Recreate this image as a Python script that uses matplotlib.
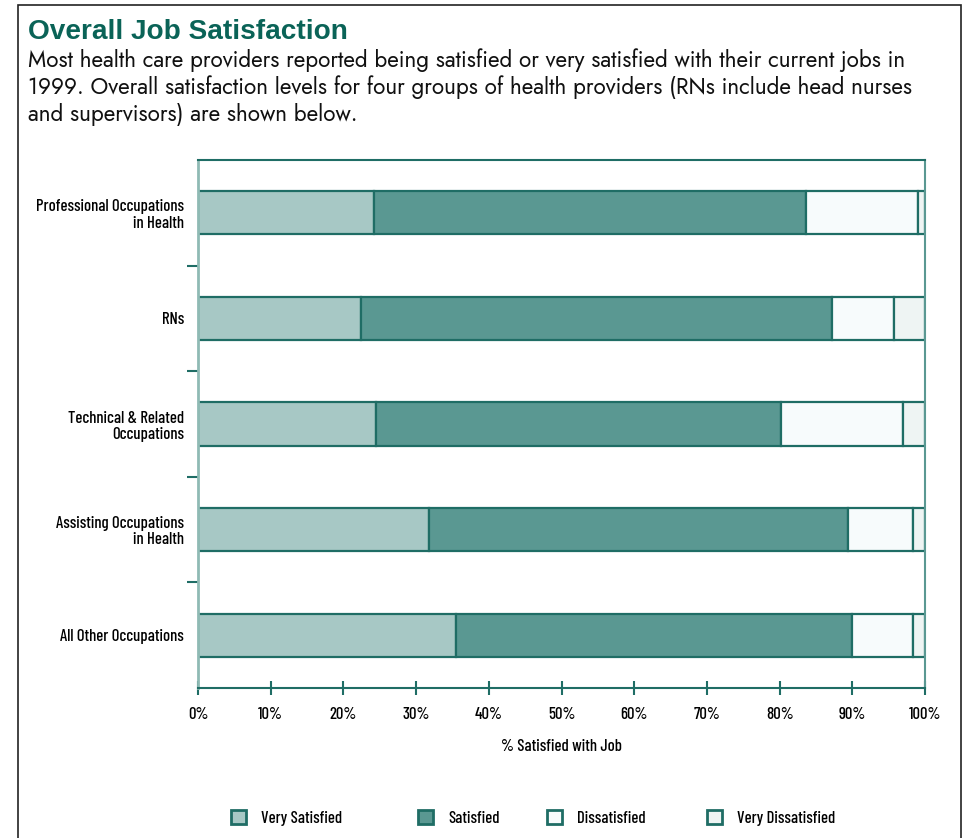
import matplotlib
matplotlib.use("Agg")
import matplotlib.pyplot as plt
from matplotlib.patches import Patch, Rectangle
import numpy as np

categories = ["Professional Occupations\nin Health", "RNs", "Technical & Related\nOccupations",
              "Assisting Occupations\nin Health", "All Other Occupations"]
series_names = ["Very Satisfied", "Satisfied", "Dissatisfied", "Very Dissatisfied"]
very_satisfied = [24.2, 22.4, 24.5, 31.8, 35.5]
satisfied = [59.5, 64.8, 55.7, 57.6, 54.4]
dissatisfied = [15.3, 8.6, 16.8, 9.0, 8.5]
very_dissatisfied = [1.0, 4.2, 3.0, 1.6, 1.6]
x_ticks = [0, 10, 20, 30, 40, 50, 60, 70, 80, 90, 100]
x_tick_labels = [f"{t}%" for t in x_ticks]

colors = ["#a7c8c5", "#5a9892", "#f7fbfc", "#eef4f3"]
edge = "#1f6d65"
narrow = ["Barlow Condensed", "DejaVu Sans"]
lab_font = {"family": narrow, "size": 12, "weight": 500}

fig = plt.figure(figsize=(9.66, 8.38), dpi=100)
W, H = 966, 838

# outer frame
fig.patches.append(Rectangle((18 / W, -0.01), (961 - 18) / W, 1.01 - 5 / H, transform=fig.transFigure,
                             fill=False, edgecolor="#222222", linewidth=1.2))

fig.text(28 / W, 1 - 32 / H, "Overall Job Satisfaction", fontsize=20.2, fontweight="bold",
         color="#0a6357", family=["Liberation Sans", "DejaVu Sans"], va="center", ha="left")
sub = ("Most health care providers reported being satisfied or very satisfied with their current jobs in\n"
       "1999. Overall satisfaction levels for four groups of health providers (RNs include head nurses\n"
       "and supervisors) are shown below.")
fig.text(28 / W, 1 - 48 / H, sub, fontsize=16.2, color="#111111", family=["Jost", "DejaVu Sans"],
         va="top", ha="left", linespacing=1.2)

ax = fig.add_axes([198 / W, 1 - 688 / H, (925 - 198) / W, (688 - 160) / H])
y = np.arange(len(categories))
series = [very_satisfied, satisfied, dissatisfied, very_dissatisfied]
left = np.zeros(len(categories))
for vals, c in zip(series, colors):
    ax.barh(y, vals, left=left, height=0.41, color=c, edgecolor=edge, linewidth=1.6)
    left += np.array(vals)

ax.set_xlim(0, 100)
ax.set_ylim(len(categories) - 0.5, -0.5)
ax.set_yticks(y)
ax.set_yticklabels(categories, fontdict=lab_font, linespacing=1.1)
ax.tick_params(axis="y", length=0, pad=10)
ax.set_yticks(np.arange(0.5, len(categories) - 1, 1), minor=True)
ax.tick_params(axis="y", which="minor", length=8, width=1.5, color="#1f6d65", direction="out")
ax.set_xticks(x_ticks)
ax.set_xticklabels(x_tick_labels, fontdict=lab_font)
ax.tick_params(axis="x", direction="inout", length=10, width=1.5, color=edge, pad=9)
ax.set_xlabel("% Satisfied with Job", fontdict=lab_font, labelpad=12)
for s in ["top", "bottom", "right"]:
    ax.spines[s].set_color(edge)
    ax.spines[s].set_linewidth(1.5)
ax.spines["left"].set_color("#8fbab4")
ax.spines["left"].set_linewidth(2)
ax.spines["right"].set_color("#5a9892")

legend_x = [231, 418, 547, 707]
for name, c, lx in zip(series_names, colors, legend_x):
    fig.legend(handles=[Patch(facecolor=c, edgecolor=edge, linewidth=2)], labels=[name],
               loc="center left", bbox_to_anchor=(lx / W, 1 - 818 / H), frameon=False,
               prop={"family": narrow, "size": 12, "weight": 500}, handlelength=0.9, handleheight=0.9,
               handletextpad=0.9, borderpad=0, borderaxespad=0)

fig.savefig("out.png", dpi=100, facecolor="white")
